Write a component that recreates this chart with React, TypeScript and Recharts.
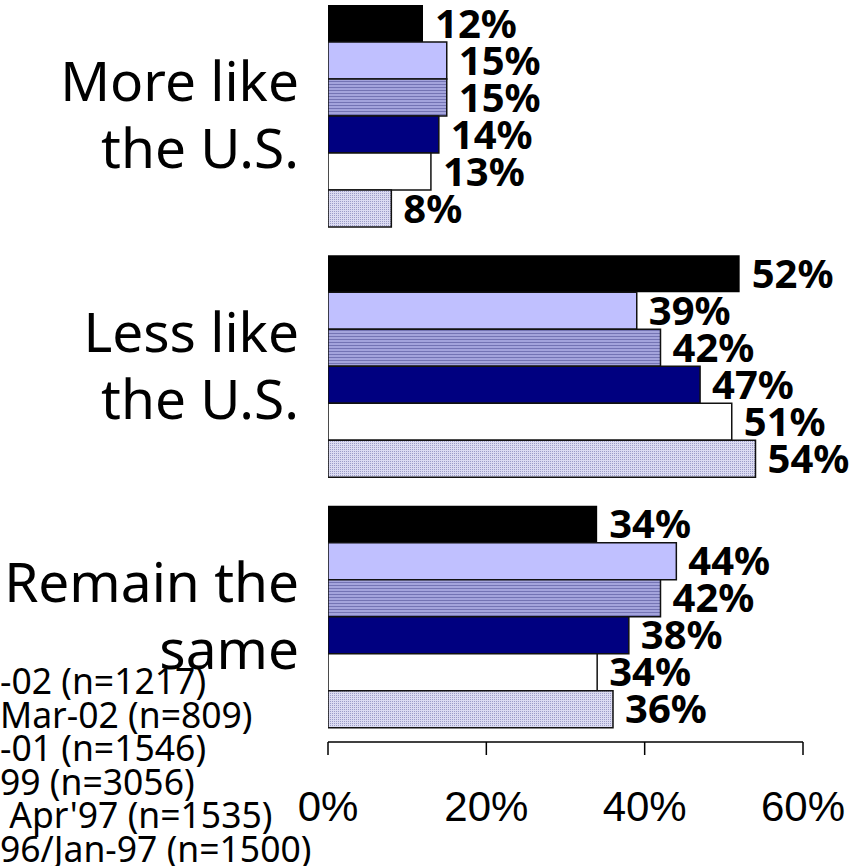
import React from 'react'
import { BarChart, Bar, XAxis, YAxis, Legend, LabelList } from 'recharts'

const categories = ['More like the U.S.', 'Less like the U.S.', 'Remain the same']
const categoryLines = [['More like', 'the U.S.'], ['Less like', 'the U.S.'], ['Remain the', 'same']]

// survey waves, as much of each label as the picture shows
const seriesNames = ['-02 (n=1217)', 'Mar-02 (n=809)', '-01 (n=1546)', '99 (n=3056)', " Apr'97 (n=1535)", '96/Jan-97 (n=1500)']

const wave1 = [12, 52, 34]
const wave2 = [15, 39, 44]
const wave3 = [15, 42, 42]
const wave4 = [14, 47, 38]
const wave5 = [13, 51, 34]
const wave6 = [8, 54, 36]

const xTicks = [0, 20, 40, 60]

const waves = [wave1, wave2, wave3, wave4, wave5, wave6]
const data = categories.map((name, i) => {
  const row: any = { name }
  waves.forEach((w, j) => { row['s' + j] = w[i] })
  return row
})

const fills = ['#000000', '#c0c0ff', 'url(#stripes)', '#000080', '#ffffff', 'url(#dots)']
const strokes = ['none', '#111', '#111', '#111', '#111', '#111']

const SANS = '"Noto Sans", "Open Sans", sans-serif'

const CategoryTick = (props: any) => {
  const { x, y, index } = props
  const lines = categoryLines[index] || [props.payload.value]
  return (
    <text x={x} y={y} textAnchor="end" fontFamily={SANS} fontSize={55} fill="#000">
      <tspan x={x} dy={-15}>{lines[0]}</tspan>
      {lines[1] && <tspan x={x} dy={67}>{lines[1]}</tspan>}
    </text>
  )
}

const PercentTick = (props: any) => {
  const { x, y, payload } = props
  return (
    <text x={x} y={y + 51} textAnchor="middle" dominantBaseline="central" fontFamily='"Liberation Sans", Arial, sans-serif' fontSize={42} fill="#000">
      {payload.value}%
    </text>
  )
}

const LegendText = ({ payload }: any) => {
  const items = [...(payload || [])].sort((a: any, b: any) => seriesNames.indexOf(a.value) - seriesNames.indexOf(b.value))
  return (
    <div style={{ fontFamily: SANS, fontSize: 35.5, lineHeight: '33.5px', color: '#000', whiteSpace: 'pre' }}>
      {items.map((p: any, i: number) => (
        <div key={i}>{p.value}</div>
      ))}
    </div>
  )
}

export default function App() {
  return (
    <div style={{ position: 'absolute', left: 0, top: -9, width: 859, height: 875, overflow: 'visible', background: '#fff' }}>
      <BarChart
        width={859}
        height={875}
        data={data}
        layout="vertical"
        margin={{ top: 0, right: 56, left: 0, bottom: 24 }}
        barCategoryGap={14}
        barGap={0}
      >
        <defs>
          <pattern id="stripes" width="4" height="3" patternUnits="userSpaceOnUse">
            <rect width="4" height="3" fill="#a4a4dc" />
            <rect width="4" height="1" fill="#7474b4" />
          </pattern>
          <pattern id="dots" width="2" height="2" patternUnits="userSpaceOnUse">
            <rect width="2" height="2" fill="#dcdcf2" />
            <rect width="1" height="1" fill="#9c9cc8" />
          </pattern>
        </defs>
        <XAxis
          type="number"
          domain={[0, 60]}
          ticks={xTicks}
          height={100}
          tickSize={13}
          tickMargin={0}
          stroke="#000"
          strokeWidth={1.5}
          tick={<PercentTick />}
          allowDataOverflow
        />
        <YAxis
          type="category"
          dataKey="name"
          width={328}
          axisLine={false}
          tickLine={false}
          tickSize={0}
          tickMargin={29}
          tick={<CategoryTick />}
        />
        <Legend
          layout="vertical"
          align="center"
          verticalAlign="middle"
          content={<LegendText />}
          wrapperStyle={{ left: 0, top: 673, width: 330 }}
        />
        {waves.map((_, j) => (
          <Bar
            key={j}
            dataKey={'s' + j}
            name={seriesNames[j]}
            fill={fills[j]}
            stroke={strokes[j]}
            strokeWidth={1.5}
            isAnimationActive={false}
          >
            <LabelList
              dataKey={'s' + j}
              position="right"
              offset={12}
              formatter={(v: any) => `${v}%`}
              style={{ fontFamily: SANS, fontSize: 40, fontWeight: 700, fill: '#000' }}
            />
          </Bar>
        ))}
      </BarChart>
    </div>
  )
}
